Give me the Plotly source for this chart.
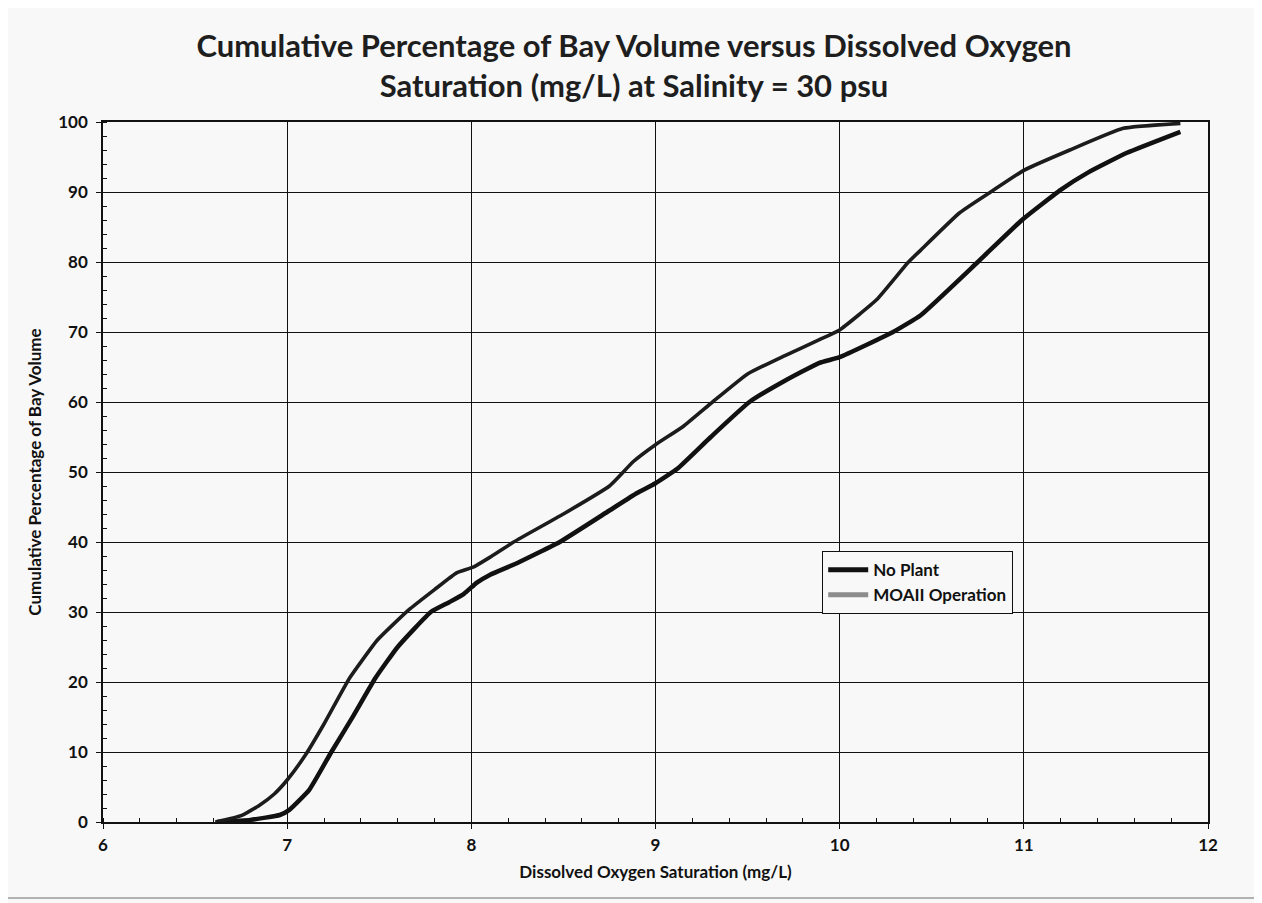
import plotly.graph_objects as go

# MOAII Operation (left curve)
moa_x = [6.61, 6.75, 6.85, 6.93, 7.0, 7.1, 7.2, 7.34, 7.49, 7.66, 7.8, 7.92, 8.01, 8.1, 8.23, 8.5, 8.75, 8.88, 9.0, 9.15, 9.31, 9.5, 9.7, 9.89, 10.0, 10.2, 10.37, 10.44, 10.65, 10.82, 11.0, 11.25, 11.54, 11.85]
moa_y = [0.0, 0.9, 2.4, 4.0, 6.0, 9.6, 14.0, 20.6, 26.0, 30.3, 33.2, 35.6, 36.4, 37.8, 40.0, 44.0, 48.0, 51.5, 53.9, 56.5, 60.0, 64.0, 66.6, 68.9, 70.3, 74.6, 79.9, 81.7, 87.0, 90.0, 93.1, 96.0, 99.1, 99.8]

# No Plant (right curve)
np_x = [6.62, 6.8, 6.96, 7.01, 7.12, 7.24, 7.36, 7.48, 7.6, 7.78, 7.88, 7.96, 8.03, 8.1, 8.25, 8.48, 8.75, 8.9, 9.0, 9.12, 9.3, 9.51, 9.7, 9.89, 10.0, 10.29, 10.44, 10.75, 10.99, 11.2, 11.35, 11.56, 11.85]
np_y = [0.0, 0.3, 1.0, 1.7, 4.6, 10.0, 15.2, 20.6, 25.0, 30.0, 31.4, 32.6, 34.2, 35.3, 37.0, 40.0, 44.5, 47.0, 48.4, 50.5, 55.0, 60.0, 63.0, 65.6, 66.4, 70.0, 72.4, 80.0, 86.0, 90.3, 92.8, 95.6, 98.6]

series_names = ["No Plant", "MOAII Operation"]

FONT = "Lato"
W, H = 1262, 903
OFF = 8  # page body margin
L, R, T, B = 103 - OFF, 54 + OFF, 122 - OFF, 81 + OFF
pw, ph = W - L - R, H - T - B


def px(xs):  # screen x -> paper
    return (xs - OFF - L) / pw


def py(ys):  # screen y -> paper
    return (H - B - (ys - OFF)) / ph


fig = go.Figure()
fig.add_trace(go.Scatter(x=np_x, y=np_y, mode="lines", name=series_names[0],
                         line=dict(color="#111111", width=4.5, shape="spline", smoothing=0.4)))
fig.add_trace(go.Scatter(x=moa_x, y=moa_y, mode="lines", name=series_names[1], showlegend=False,
                         line=dict(color="#1c1c1c", width=3.6, shape="spline", smoothing=0.4)))
# legend entry for MOAII (gray swatch as in the legend box)
fig.add_trace(go.Scatter(x=[None], y=[None], mode="lines", name=series_names[1],
                         line=dict(color="#8c8c8c", width=4)))

fig.update_layout(
    width=W, height=H,
    margin=dict(l=L, r=R, t=T, b=B, autoexpand=False),
    paper_bgcolor="#f8f8f8",
    plot_bgcolor="#f8f8f8",
    showlegend=True,
    legend=dict(x=px(822), y=py(551), xanchor="left", yanchor="top",
                bgcolor="#f8f8f8", bordercolor="#111111", borderwidth=1.2,
                font=dict(family=FONT, size=17, color="#111111", weight="bold"),
                tracegroupgap=0, itemwidth=40, itemsizing="constant"),
    title=dict(text="<b>Cumulative Percentage of Bay Volume versus Dissolved Oxygen<br>Saturation (mg/L) at Salinity = 30 psu</b>",
               x=(634 - OFF) / W, xref="container", xanchor="center",
               y=1 - 49 / H, yref="container", yanchor="top",
               font=dict(family=FONT, size=31, color="#1e1e1e")),
    font=dict(family=FONT, color="#111111"),
)

fig.update_xaxes(range=[6, 12], dtick=1, tick0=6, showgrid=True, gridcolor="#111111", gridwidth=1,
                 showline=True, linecolor="#111111", linewidth=1.5, mirror=True,
                 ticks="outside", ticklen=5, tickcolor="#111111",
                 minor=dict(dtick=0.2, ticks="inside", ticklen=4, tickcolor="#111111", showgrid=False),
                 tickfont=dict(family=FONT, size=17, color="#111111", weight="bold"),
                 ticklabelstandoff=2,
                 title=dict(text="<b>Dissolved Oxygen Saturation (mg/L)</b>",
                            font=dict(family=FONT, size=17, color="#111111"), standoff=12),
                 zeroline=False)
fig.update_yaxes(range=[0, 100], dtick=10, showgrid=True, gridcolor="#111111", gridwidth=1,
                 showline=True, linecolor="#111111", linewidth=1.5, mirror=True,
                 ticks="outside", ticklen=5, tickcolor="#111111",
                 minor=dict(dtick=2, ticks="inside", ticklen=4, tickcolor="#111111", showgrid=False),
                 tickfont=dict(family=FONT, size=17, color="#111111", weight="bold"),
                 ticklabelstandoff=5,
                 title=dict(text="<b>Cumulative Percentage of Bay Volume</b>",
                            font=dict(family=FONT, size=17, color="#111111"), standoff=12),
                 zeroline=False)

# outer chart frame
fig.add_shape(type="rect", xref="paper", yref="paper",
              x0=px(6), x1=px(1256), y0=py(898), y1=py(5),
              line=dict(color="#9a9a9a", width=1.5), layer="below")

fig.write_html("out.html")
